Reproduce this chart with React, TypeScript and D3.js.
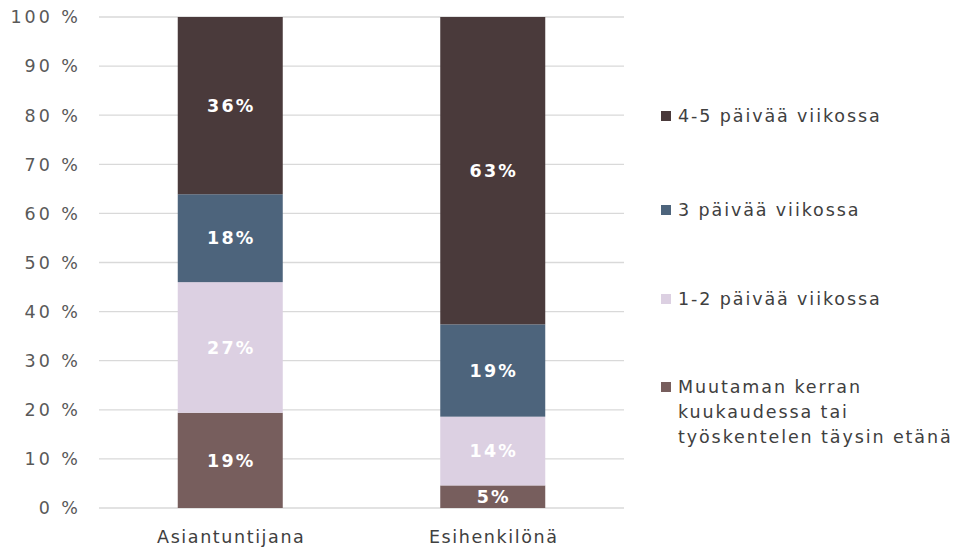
import React from "react";
import * as d3 from "d3";

const categories = ["Asiantuntijana", "Esihenkilönä"];
const seriesNames = [
  "Muutaman kerran kuukaudessa tai työskentelen täysin etänä",
  "1-2 päivää viikossa",
  "3 päivää viikossa",
  "4-5 päivää viikossa",
];
const seriesMonthly = [19.4, 4.6];
const series12 = [26.6, 14.0];
const series3 = [17.9, 18.8];
const series45 = [36.1, 62.6];
const colors = ["#775e5d", "#dcd0e2", "#4d647c", "#4a3a3b"];
const yTicks = [0, 10, 20, 30, 40, 50, 60, 70, 80, 90, 100];
const legendOrder = [3, 2, 1, 0];
const legendLines = [
  ["Muutaman kerran", "kuukaudessa tai", "työskentelen täysin etänä"],
  ["1-2 päivää viikossa"],
  ["3 päivää viikossa"],
  ["4-5 päivää viikossa"],
];

export default function App() {
  const W = 955, H = 548;
  const m = { left: 99, right: 624, top: 17, bottom: 508 };
  const x = d3.scaleBand().domain(categories).range([m.left, m.right]).paddingInner(0.6).paddingOuter(0.3);
  const y = d3.scaleLinear().domain([0, 100]).range([m.bottom, m.top]);
  const all = [seriesMonthly, series12, series3, series45];
  const rows = categories.map((c, i) => {
    const r: any = { cat: c };
    all.forEach((s, k) => (r["s" + k] = s[i]));
    return r;
  });
  const stack = d3.stack().keys(["s0", "s1", "s2", "s3"])(rows as any);
  const font = "'DejaVu Sans', Verdana, sans-serif";
  const legendY = [116, 210, 299, 387];
  return (
    <svg width={W} height={H} style={{ position: "absolute", left: 0, top: 0 }} fontFamily={font}>
      <rect width={W} height={H} fill="#fff" />
      {yTicks.map((t) => (
        <g key={t}>
          <line x1={m.left} x2={m.right} y1={y(t)} y2={y(t)} stroke="#d9d9d9" strokeWidth={1.3} />
          <text x={81} y={y(t)} dy="0.36em" textAnchor="end" fontSize={17.5} letterSpacing={3} fill="#595959">
            {t} %
          </text>
        </g>
      ))}
      {stack.map((layer, k) =>
        layer.map((d, i) => {
          const x0 = x(categories[i])!;
          const y0 = y(d[1]);
          const h = y(d[0]) - y(d[1]);
          const v = all[k][i];
          return (
            <g key={k + "-" + i}>
              <rect x={x0} y={y0} width={x.bandwidth()} height={h} fill={colors[k]} />
              <text
                x={x0 + x.bandwidth() / 2 + 1}
                y={y0 + h / 2}
                dy="0.36em"
                textAnchor="middle"
                fontSize={17.5}
                letterSpacing={2.2}
                fontWeight="bold"
                fill="#fff"
              >
                {Math.round(v)}%
              </text>
            </g>
          );
        })
      )}
      {categories.map((c) => (
        <text key={c} x={x(c)! + x.bandwidth() / 2 + 1} y={537} dy="0.35em" textAnchor="middle" fontSize={17.5} letterSpacing={1.6} fill="#404040">
          {c}
        </text>
      ))}
      {legendOrder.map((k, j) => (
        <g key={k}>
          <rect x={661} y={legendY[j] - 5} width={10} height={10} fill={colors[k]} />
          {legendLines[k].map((ln, li) => (
            <text key={li} x={678} y={legendY[j] + li * 25} dy="0.36em" fontSize={17.5} letterSpacing={1.9} fill="#404040">
              {ln}
            </text>
          ))}
        </g>
      ))}
    </svg>
  );
}
